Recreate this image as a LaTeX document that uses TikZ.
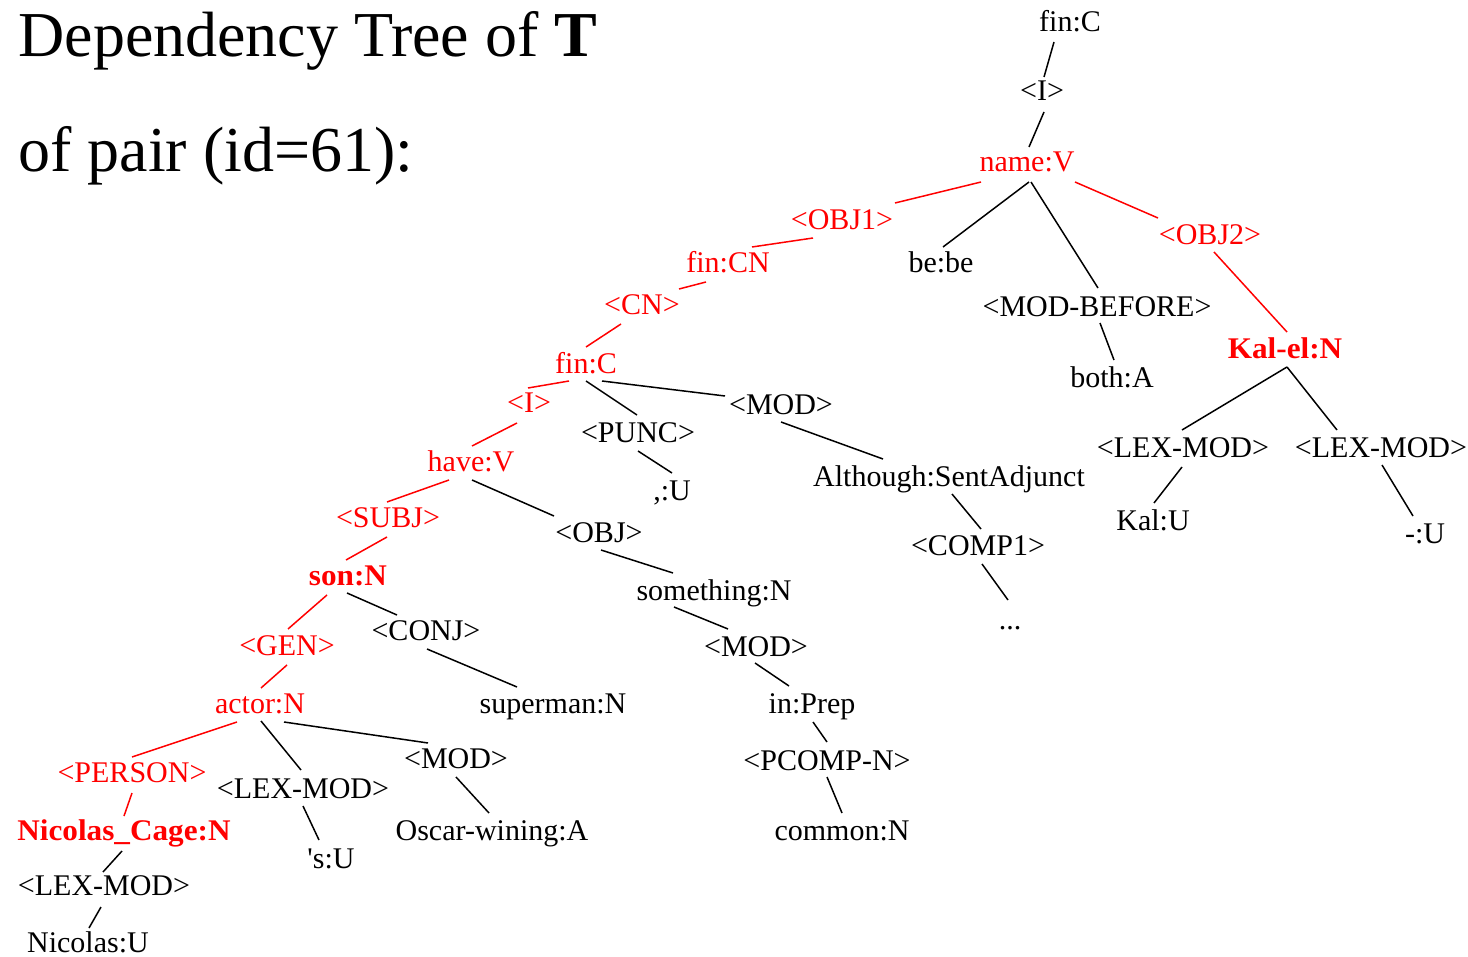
\documentclass[tikz,border=0pt]{standalone}
\usepackage{fontspec}
\setmainfont{Liberation Serif}
\newfontfamily\treefont{Liberation Serif}[Ligatures=NoCommon]
\newfontfamily\treebold{Liberation Serif}[Ligatures=NoCommon,FakeStretch=1.04]
\begin{document}
\begin{tikzpicture}[x=0.5pt,y=-0.5pt,
  lbl/.style={anchor=base,inner sep=0pt,font=\treefont\fontsize{15}{18}\selectfont},
  rlbl/.style={lbl,text=red},
  rblbl/.style={anchor=base,inner sep=0pt,text=red,font=\treebold\bfseries\fontsize{15}{18}\selectfont},
  title/.style={anchor=base west,inner sep=0pt,font=\fontsize{32}{38}\selectfont},
  dep/.style={line width=0.75pt,black}]
\newcommand\dep[5][]{\draw[dep,#1] ([shift={(#3)}]#2.base) -- ([shift={(#5)}]#4.base);}
\fill[white] (0,0) rectangle (1468,957);
\useasboundingbox (0,0) rectangle (1468,957);

% heading
\node[title] (t1) at (18,57) {Dependency Tree of \textbf{T}};
\node[title] (t2) at (18,172) {of pair (id=61):};

% tree labels
\node[lbl]   (n1)  at (1070,32)  {fin:C};
\node[lbl]   (n2)  at (1042,101) {<I>};
\node[rlbl]  (n3)  at (1027,172) {name:V};
\node[rlbl]  (n4)  at (842,230)  {<OBJ1>};
\node[lbl]   (n5)  at (941,273)  {be:be};
\node[rlbl]  (n6)  at (1210,245) {<OBJ2>};
\node[lbl]   (n7)  at (1097,317) {<MOD-BEFORE>};
\node[lbl]   (n8)  at (1112,387) {both:A};
\node[rblbl] (n9)  at (1285,358) {Kal-el:N};
\node[lbl]   (n10) at (1183,458) {<LEX-MOD>};
\node[lbl]   (n11) at (1381,458) {<LEX-MOD>};
\node[lbl]   (n12) at (1153,530) {Kal:U};
\node[lbl]   (n13) at (1425,543) {-:U};
\node[rlbl]  (n14) at (728,273)  {fin:CN};
\node[rlbl]  (n15) at (642,315)  {<CN>};
\node[rlbl]  (n16) at (586,373)  {fin:C};
\node[rlbl]  (n17) at (529,413)  {<I>};
\node[lbl]   (n18) at (638,443)  {<PUNC>};
\node[lbl]   (n19) at (781,415)  {<MOD>};
\node[rlbl]  (n20) at (471,472)  {have:V};
\node[lbl]   (n21) at (672,500)  {,:U};
\node[lbl]   (n22) at (949,487)  {Although:SentAdjunct};
\node[rlbl]  (n23) at (388,527)  {<SUBJ>};
\node[lbl]   (n24) at (599,542)  {<OBJ>};
\node[lbl]   (n25) at (978,555)  {<COMP1>};
\node[rblbl] (n26) at (348,585)  {son:N};
\node[lbl]   (n27) at (714,600)  {something:N};
\node[lbl]   (n28) at (1010,629) {...};
\node[lbl]   (n29) at (426,640)  {<CONJ>};
\node[rlbl]  (n30) at (287,655)  {<GEN>};
\node[lbl]   (n31) at (756,656)  {<MOD>};
\node[rlbl]  (n32) at (260,713)  {actor:N};
\node[lbl]   (n33) at (553,713)  {superman:N};
\node[lbl]   (n34) at (812,713)  {in:Prep};
\node[rlbl]  (n35) at (132,782)  {<PERSON>};
\node[lbl]   (n36) at (303,798)  {<LEX-MOD>};
\node[lbl]   (n37) at (456,768)  {<MOD>};
\node[lbl]   (n38) at (827,770)  {<PCOMP-N>};
\node[rblbl] (n39) at (124,840)  {Nicolas\_Cage:N};
\node[lbl]   (n40) at (492,840)  {Oscar-wining:A};
\node[lbl]   (n41) at (331,868)  {'s:U};
\node[lbl]   (n42) at (842,840)  {common:N};
\node[lbl]   (n43) at (104,895)  {<LEX-MOD>};
\node[lbl]   (n44) at (88,952)   {Nicolas:U};

% dependency links
\dep{n1}{-16,10}{n2}{2,-24}
\dep{n2}{2,11}{n3}{2,-25}
\dep[red]{n3}{-46,10}{n4}{53,-27}
\dep{n3}{2,10}{n5}{2,-26}
\dep{n3}{4,10}{n7}{1,-29}
\dep[red]{n3}{48,10}{n6}{-52,-27}
\dep{n7}{3,6}{n8}{2,-27}
\dep[red]{n6}{4,7}{n9}{2,-26}
\dep{n9}{2,9}{n10}{-1,-28}
\dep{n9}{2,9}{n11}{-44,-28}
\dep{n10}{-1,9}{n12}{1,-27}
\dep{n11}{1,7}{n13}{-12,-27}
\dep[red]{n4}{-29,8}{n14}{24,-26}
\dep[red]{n14}{-22,9}{n15}{37,-26}
\dep[red]{n15}{-21,9}{n16}{0,-26}
\dep[red]{n16}{-17,8}{n17}{-1,-25}
\dep{n16}{0,8}{n18}{-1,-28}
\dep{n16}{16,8}{n19}{-56,-19}
\dep[red]{n17}{-12,10}{n20}{1,-26}
\dep{n18}{0,8}{n21}{0,-27}
\dep{n19}{0,7}{n22}{-66,-28}
\dep{n22}{3,7}{n25}{3,-26}
\dep{n25}{4,9}{n28}{-2,-29}
\dep[red]{n20}{-22,8}{n23}{-1,-25}
\dep{n20}{1,8}{n24}{-45,-26}
\dep[red]{n23}{-1,10}{n26}{-2,-25}
\dep{n24}{2,8}{n27}{-41,-27}
\dep{n27}{-40,7}{n31}{-28,-27}
\dep{n31}{-1,7}{n34}{-23,-27}
\dep{n34}{1,9}{n38}{0,-28}
\dep{n38}{0,7}{n42}{0,-27}
\dep[red]{n26}{-21,10}{n30}{1,-26}
\dep{n26}{-1,8}{n29}{-29,-25}
\dep[red]{n30}{0,10}{n32}{1,-25}
\dep{n29}{1,9}{n33}{-36,-26}
\dep[red]{n32}{-23,9}{n35}{0,-25}
\dep{n32}{1,8}{n36}{-2,-28}
\dep{n32}{24,9}{n37}{-28,-25}
\dep{n37}{0,9}{n40}{-3,-27}
\dep[red]{n35}{0,11}{n39}{0,-24}
\dep{n36}{0,8}{n41}{-12,-28}
\dep{n39}{-2,11}{n43}{-1,-23}
\dep{n43}{-3,12}{n44}{1,-24}
\end{tikzpicture}
\end{document}
